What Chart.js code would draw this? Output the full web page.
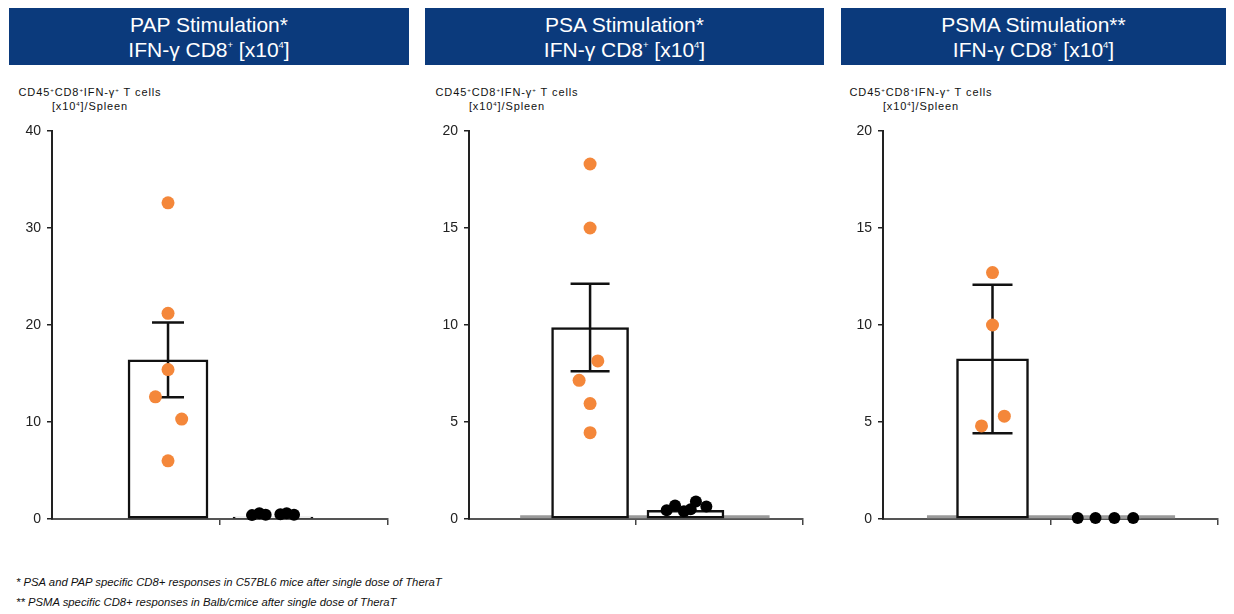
<!DOCTYPE html>
<html>
<head>
<meta charset="utf-8">
<script src="https://cdn.jsdelivr.net/npm/chart.js@4.4.1/dist/chart.umd.min.js"></script>
<style>
  body { margin: 0; width: 1234px; height: 614px; background: #fff; position: relative; overflow: hidden;
         font-family: "Liberation Sans", Arial, sans-serif; color: #111; }
  .head { position: absolute; top: 8px; height: 57px; background: #0b3a7c; color: #fff; text-align: center;
          font-size: 21px; line-height: 25px; padding-top: 4px; box-sizing: border-box; }
  .head sup { font-size: 0.45em; line-height: 0; vertical-align: 1em; }
  .ytitle { position: absolute; top: 85px; width: 152px; text-align: center; font-size: 11px; line-height: 14px; letter-spacing: 0.9px; }
  .ytitle sup { font-size: 0.55em; line-height: 0; vertical-align: 0.7em; }
  .panel { position: absolute; top: 115px; }
  .notes { position: absolute; left: 16px; top: 572px; font-style: italic; font-size: 11.3px; line-height: 20px; }
</style>
</head>
<body>
<div class="head" style="left:9px;width:400px">PAP Stimulation*<br>IFN-γ CD8<sup>+</sup> [x10<sup>4</sup>]</div>
<div class="head" style="left:425px;width:399px">PSA Stimulation*<br>IFN-γ CD8<sup>+</sup> [x10<sup>4</sup>]</div>
<div class="head" style="left:841px;width:385px">PSMA Stimulation**<br>IFN-γ CD8<sup>+</sup> [x10<sup>4</sup>]</div>

<div class="ytitle" style="left:14px">CD45<sup>+</sup>CD8<sup>+</sup>IFN-γ<sup>+</sup> T cells<br>[x10<sup>4</sup>]/Spleen</div>
<div class="ytitle" style="left:431px">CD45<sup>+</sup>CD8<sup>+</sup>IFN-γ<sup>+</sup> T cells<br>[x10<sup>4</sup>]/Spleen</div>
<div class="ytitle" style="left:845px">CD45<sup>+</sup>CD8<sup>+</sup>IFN-γ<sup>+</sup> T cells<br>[x10<sup>4</sup>]/Spleen</div>

<canvas id="papChart" class="panel" style="left:0px" width="410" height="424"></canvas>
<canvas id="psaChart" class="panel" style="left:415px" width="410" height="424"></canvas>
<canvas id="psmaChart" class="panel" style="left:830px" width="404" height="424"></canvas>

<div class="notes">* PSA and PAP specific CD8+ responses in C57BL6 mice after single dose of TheraT<br>** PSMA specific CD8+ responses in Balb/cmice after single dose of TheraT</div>

<script>
// groepen: behandeld vs. controle
const groups = ["TheraT", "Control"];

// PAP
const papTicks = [0, 10, 20, 30, 40];
const papMeans = [16.4, 0.2];
const papErrors = [3.85, 0];
const papTreated = [32.6, 21.2, 15.4, 12.6, 10.3, 6.0];
const papControl = [0.4, 0.6, 0.45, 0.5, 0.6, 0.45];

// PSA
const psaTicks = [0, 5, 10, 15, 20];
const psaMeans = [9.87, 0.45];
const psaErrors = [2.25, 0];
const psaTreated = [18.3, 15.0, 8.15, 7.15, 5.95, 4.45];
const psaControl = [0.45, 0.7, 0.4, 0.5, 0.9, 0.65];

// PSMA
const psmaTicks = [0, 5, 10, 15, 20];
const psmaMeans = [8.25, 0.05];
const psmaErrors = [3.83, 0];
const psmaTreated = [12.7, 10.0, 5.3, 4.8];
const psmaControl = [0.05, 0.05, 0.05, 0.05];

const orange = "#f4873a";
const fontFamily = "'Liberation Sans', Arial, sans-serif";

// error bars tekenen na de bar-dataset, voor de punten
const errorBars = {
  id: "errorBars",
  afterDatasetDraw(chart, args, opts) {
    if (args.meta.type !== "bar") return;
    const { ctx } = chart;
    const x = chart.scales.x, y = chart.scales.y;
    ctx.save();
    ctx.strokeStyle = "#111";
    ctx.lineWidth = 2.5;
    opts.means.forEach((m, i) => {
      const e = opts.errors[i];
      if (!e) return;
      const cx = x.getPixelForValue(opts.centers[i]);
      const top = y.getPixelForValue(m + e);
      const bot = y.getPixelForValue(m - e);
      ctx.beginPath();
      ctx.moveTo(cx, top); ctx.lineTo(cx, bot);
      ctx.moveTo(cx - opts.cap, top); ctx.lineTo(cx + opts.cap, top);
      ctx.moveTo(cx - opts.cap, bot); ctx.lineTo(cx + opts.cap, bot);
      ctx.stroke();
    });
    ctx.restore();
  }
};

function makePanel(id, p) {
  const ctx = document.getElementById(id).getContext("2d");
  const datasets = [];
  if (p.baseline) {
    datasets.push({
      type: "line",
      data: p.baseline.span.map(v => ({ x: v, y: p.baseline.level })),
      borderColor: "#9a9a9a",
      borderWidth: 3,
      pointRadius: 0,
      order: 4,
    });
  }
  datasets.push({
    type: "bar",
    label: "mean",
    data: p.means.map((m, i) => ({ x: p.centers[i], y: m })),
    backgroundColor: "#fff",
    borderColor: p.barBorders,
    borderWidth: 2.5,
    borderSkipped: false,
    barThickness: p.barWidth,
    order: 3,
  });
  datasets.push({
    type: "scatter",
    data: p.treated.map((v, i) => ({ x: p.centers[0] + p.treatedJitter[i], y: v })),
    backgroundColor: orange,
    borderWidth: 0,
    pointRadius: 6.5,
    clip: false,
    order: 1,
  });
  datasets.push({
    type: "scatter",
    data: p.control.map((v, i) => ({ x: p.centers[1] + p.controlJitter[i], y: v })),
    backgroundColor: "#000",
    borderWidth: 0,
    pointRadius: p.controlRadius,
    clip: false,
    order: 1,
  });

  new Chart(ctx, {
    type: "scatter",
    data: { datasets },
    plugins: [errorBars],
    options: {
      responsive: false,
      animation: false,
      events: [],
      layout: { padding: { top: 16, right: p.padRight, bottom: 0, left: 0 } },
      scales: {
        x: {
          type: "linear",
          min: 0,
          max: 3.2,
          offset: false,
          afterBuildTicks: s => { s.ticks = [{ value: 1.6 }, { value: 3.2 }]; },
          ticks: { display: false },
          grid: { offset: false, drawOnChartArea: false, tickLength: 6, color: "#444", lineWidth: 1.5 },
          border: { color: "#555", width: 2 },
          afterFit: s => { s.height = 20; },
        },
        y: {
          min: 0,
          max: p.ticks[p.ticks.length - 1],
          afterBuildTicks: s => { s.ticks = p.ticks.map(v => ({ value: v })); },
          ticks: { color: "#222", font: { size: 14, family: fontFamily }, padding: 6 },
          grid: { drawOnChartArea: false, tickLength: 5, color: "#222", lineWidth: 1.5 },
          border: { color: "#222", width: 2 },
          afterFit: s => { s.width = p.axisWidth; },
        },
      },
      plugins: {
        legend: { display: false },
        tooltip: { enabled: false },
        errorBars: { means: p.means, errors: p.errors, centers: p.centers, cap: p.cap },
      },
    },
  });
}

makePanel("papChart", {
  ticks: papTicks, means: papMeans, errors: papErrors, treated: papTreated, control: papControl,
  centers: [1.105, 2.105], treatedJitter: [0, 0, 0, -0.12, 0.13, 0],
  controlJitter: [-0.2, -0.13, -0.07, 0.07, 0.13, 0.2], controlRadius: 6,
  barWidth: 80, barBorders: ["#111", "#111"], cap: 16, axisWidth: 52, padRight: 22,
});

makePanel("psaChart", {
  ticks: psaTicks, means: psaMeans, errors: psaErrors, treated: psaTreated, control: psaControl,
  centers: [1.16, 2.074], treatedJitter: [0, 0, 0.074, -0.105, 0, 0],
  controlJitter: [-0.18, -0.1, -0.015, 0.05, 0.1, 0.2], controlRadius: 6,
  barWidth: 77, barBorders: ["#111", "#111"], cap: 19.5, axisWidth: 54, padRight: 22,
  baseline: { level: 0.12, span: [0.49, 2.88] },
});

makePanel("psmaChart", {
  ticks: psmaTicks, means: psmaMeans, errors: psmaErrors, treated: psmaTreated, control: psmaControl,
  centers: [1.046, 2.12], treatedJitter: [0, 0, 0.113, -0.105],
  controlJitter: [-0.26, -0.09, 0.09, 0.27], controlRadius: 6,
  barWidth: 72, barBorders: ["#111", "#9a9a9a"], cap: 20, axisWidth: 53, padRight: 16,
  baseline: { level: 0.12, span: [0.42, 2.79] },
});
</script>
</body>
</html>
